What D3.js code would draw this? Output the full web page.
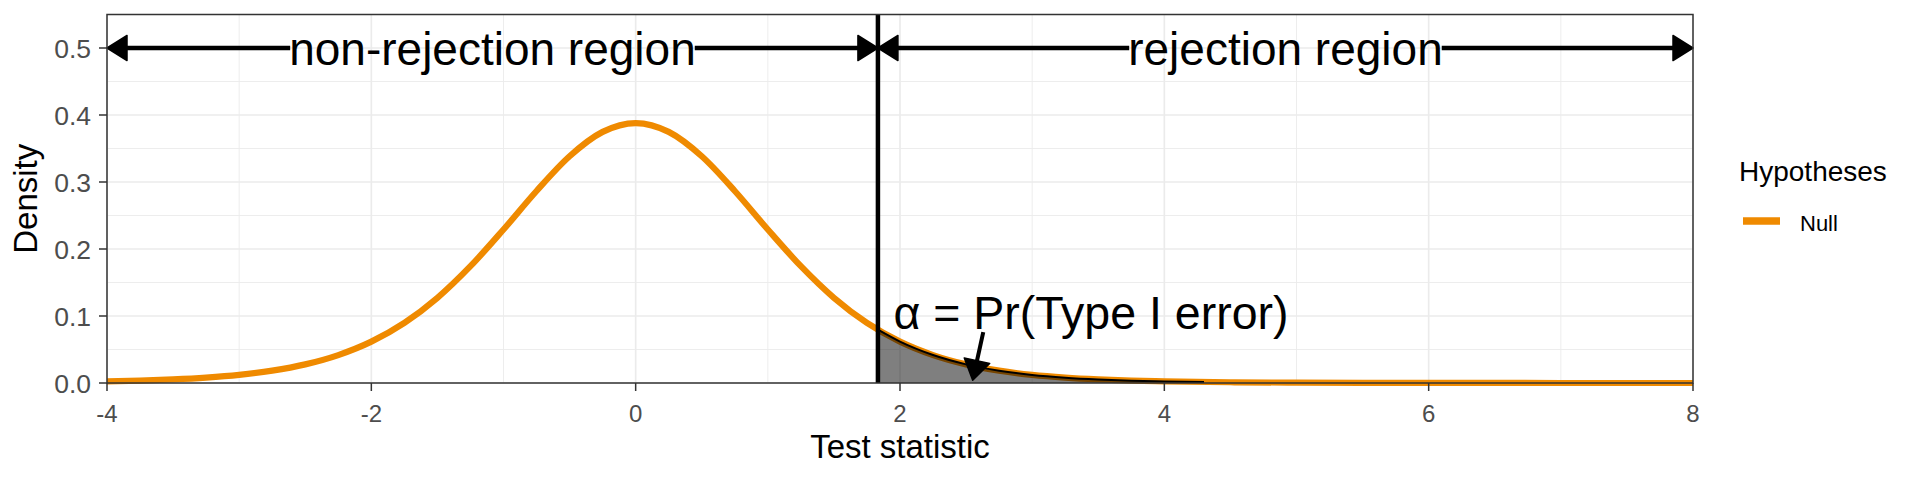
<!DOCTYPE html>
<html><head><meta charset="utf-8">
<script src="https://cdn.jsdelivr.net/npm/d3@7"></script>
<style>body{margin:0;background:#fff}svg{display:block}text{font-family:"Liberation Sans",Arial,sans-serif}</style>
</head><body>
<svg id="c" width="1920" height="480"></svg>
<script>
// ---- data ----
const nullX = [-4,-3.75,-3.5,-3.25,-3,-2.75,-2.5,-2.25,-2,-1.75,-1.5,-1.25,-1,-0.75,-0.5,-0.25,0,0.25,0.5,0.75,1,1.25,1.5,1.75,2,2.25,2.5,2.75,3,3.25,3.5,3.75,4,4.5,5,5.5,6,7,8];
const nullY = [0.0024,0.0035,0.0053,0.0080,0.0121,0.0184,0.0278,0.0417,0.0617,0.0897,0.1271,0.1743,0.2291,0.2866,0.3384,0.3748,0.3880,0.3748,0.3384,0.2866,0.2291,0.1743,0.1271,0.0897,0.0617,0.0417,0.0278,0.0184,0.0121,0.0080,0.0053,0.0035,0.0024,0.0011,0.0005,0.0002,0.0001,0.00003,0.00001];
const tailX = [1.833,2,2.25,2.5,2.75,3,3.25,3.5,3.75,4,4.3];
const tailY = [0.0795,0.0617,0.0417,0.0278,0.0184,0.0121,0.0080,0.0053,0.0035,0.0024,0.0015];
const critical = 1.833;
const xDomain = [-4, 8];
const yDomain = [0, 0.55];
const xTicks = [-4,-2,0,2,4,6,8];
const xTickLabels = ["-4","-2","0","2","4","6","8"];
const xMinor = [-3,-1,1,3,5,7];
const yTicks = [0,0.1,0.2,0.3,0.4,0.5];
const yTickLabels = ["0.0","0.1","0.2","0.3","0.4","0.5"];
const yMinor = [0.05,0.15,0.25,0.35,0.45];
const regionY = 0.5;
const regionLabels = ["non-rejection region","rejection region"];
const alphaLabel = {x:1.95, y:0.08, text:"α = Pr(Type I error)"};
const alphaArrow = {x1:2.63, y1:0.076, x2:2.55, y2:0.004};
const seriesName = "Null";
const legendTitle = "Hypotheses";
const xTitle = "Test statistic", yTitle = "Density";
const orange = "#ef8a00";

// ---- chart ----
const svg = d3.select("#c");
const L=107, R=1693, T=14.5, B=383;
const x = d3.scaleLinear(xDomain,[L,R]);
const y = d3.scaleLinear(yDomain,[B,T]);
const g = svg.append("g");

// grid
g.selectAll(".xm").data(xMinor).join("line").attr("x1",d=>x(d)).attr("x2",d=>x(d)).attr("y1",T).attr("y2",B).attr("stroke","#ebebeb").attr("stroke-width",0.9);
g.selectAll(".ym").data(yMinor).join("line").attr("y1",d=>y(d)).attr("y2",d=>y(d)).attr("x1",L).attr("x2",R).attr("stroke","#ebebeb").attr("stroke-width",0.9);
g.selectAll(".xM").data(xTicks).join("line").attr("x1",d=>x(d)).attr("x2",d=>x(d)).attr("y1",T).attr("y2",B).attr("stroke","#ebebeb").attr("stroke-width",1.7);
g.selectAll(".yM").data(yTicks).join("line").attr("y1",d=>y(d)).attr("y2",d=>y(d)).attr("x1",L).attr("x2",R).attr("stroke","#ebebeb").attr("stroke-width",1.7);

// curve
const pts = nullX.map((v,i)=>[v,nullY[i]]);
const line = d3.line().x(d=>x(d[0])).y(d=>y(d[1])).curve(d3.curveMonotoneX);
g.append("path").attr("d",line(pts)).attr("fill","none").attr("stroke",orange).attr("stroke-width",6.2);

// tail area
const tpts = tailX.map((v,i)=>[v,tailY[i]]);
const area = d3.area().x(d=>x(d[0])).y0(y(0)).y1(d=>y(d[1])).curve(d3.curveMonotoneX);
g.append("path").attr("d",area(tpts)).attr("fill","#000").attr("fill-opacity",0.5);
g.append("path").attr("d",line(tpts)).attr("fill","none").attr("stroke","#000").attr("stroke-width",2);

// critical line
g.append("line").attr("x1",x(critical)).attr("x2",x(critical)).attr("y1",T).attr("y2",B).attr("stroke","#000").attr("stroke-width",4.5);

function head(x1,y1,x2,y2,len,half){
  const a=Math.atan2(y2-y1,x2-x1), c=Math.cos(a), s=Math.sin(a);
  const bx=x2-len*c, by=y2-len*s;
  g.append("path").attr("d",`M${x2},${y2}L${bx-half*s},${by+half*c}L${bx+half*s},${by-half*c}Z`).attr("fill","#000").attr("stroke","#000").attr("stroke-width",1.5).attr("stroke-linejoin","round");
}

// region arrows with labels
const spans=[[xDomain[0],critical],[critical,xDomain[1]]];
spans.forEach((sp,i)=>{
  const xa=x(sp[0]), xb=x(sp[1]), yy=y(regionY);
  const cx=(xa+xb)/2;
  const t=g.append("text").attr("x",cx).attr("y",yy+16.5).attr("text-anchor","middle").attr("font-size",46).attr("fill","#000").text(regionLabels[i]);
  const w=t.node().getComputedTextLength();
  g.append("line").attr("x1",xa+10).attr("x2",cx-w/2+1).attr("y1",yy).attr("y2",yy).attr("stroke","#000").attr("stroke-width",4.5);
  g.append("line").attr("x1",cx+w/2-1).attr("x2",xb-10).attr("y1",yy).attr("y2",yy).attr("stroke","#000").attr("stroke-width",4.5);
  head(xb,yy,xa,yy,20,12.5);
  head(xa,yy,xb,yy,20,12.5);
});

// alpha annotation
g.append("text").attr("x",x(alphaLabel.x)).attr("y",y(alphaLabel.y)).attr("font-size",46.5).attr("fill","#000").text(alphaLabel.text);
g.append("line").attr("x1",x(alphaArrow.x1)).attr("y1",y(alphaArrow.y1)).attr("x2",x(alphaArrow.x2)+ (x(alphaArrow.x1)-x(alphaArrow.x2))*0.25).attr("y2",y(alphaArrow.y2)-(y(alphaArrow.y2)-y(alphaArrow.y1))*0.25).attr("stroke","#000").attr("stroke-width",4);
head(x(alphaArrow.x1),y(alphaArrow.y1),x(alphaArrow.x2),y(alphaArrow.y2),20,13);

// panel border
g.append("rect").attr("x",L).attr("y",T).attr("width",R-L).attr("height",B-T).attr("fill","none").attr("stroke","#333").attr("stroke-width",1.5);

// axes ticks and labels
g.selectAll(".xt").data(xTicks).join("line").attr("x1",d=>x(d)).attr("x2",d=>x(d)).attr("y1",B).attr("y2",B+8).attr("stroke","#333").attr("stroke-width",1.5);
g.selectAll(".xl").data(xTicks).join("text").attr("x",d=>x(d)).attr("y",B+38.5).attr("text-anchor","middle").attr("font-size",24).attr("fill","#4d4d4d").text((d,i)=>xTickLabels[i]);
g.selectAll(".yt").data(yTicks).join("line").attr("y1",d=>y(d)).attr("y2",d=>y(d)).attr("x1",L-8).attr("x2",L).attr("stroke","#333").attr("stroke-width",1.5);
g.selectAll(".yl").data(yTicks).join("text").attr("x",L-16).attr("y",d=>y(d)+9.5).attr("text-anchor","end").attr("font-size",26.5).attr("fill","#4d4d4d").text((d,i)=>yTickLabels[i]);

// axis titles
g.append("text").attr("x",(L+R)/2).attr("y",458).attr("text-anchor","middle").attr("font-size",33).attr("fill","#000").text(xTitle);
g.append("text").attr("transform",`translate(37,${(T+B)/2}) rotate(-90)`).attr("text-anchor","middle").attr("font-size",33).attr("fill","#000").text(yTitle);

// legend
g.append("text").attr("x",1739).attr("y",180.5).attr("font-size",28).attr("fill","#000").text(legendTitle);
g.append("line").attr("x1",1743).attr("x2",1780).attr("y1",221).attr("y2",221).attr("stroke",orange).attr("stroke-width",7.5);
g.append("text").attr("x",1800).attr("y",230.5).attr("font-size",22).attr("fill","#000").text(seriesName);
</script>
</body></html>
